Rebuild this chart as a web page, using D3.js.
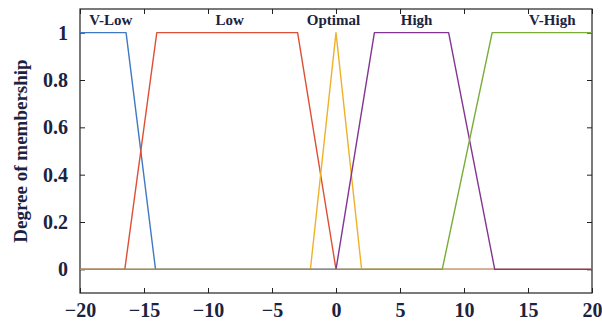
<!DOCTYPE html>
<html>
<head>
<meta charset="utf-8">
<script src="https://cdn.jsdelivr.net/npm/d3@7"></script>
<style>
  body { margin: 0; background: #fff; }
  svg text { font-family: "Liberation Serif", "Times New Roman", serif; font-weight: bold; fill: #1b2340; }
  .axis path, .axis line { stroke: #222; }
</style>
</head>
<body>
<div id="chart"></div>
<script>
// membership functions: trapezoid corner x positions (a, b, c, d)
const setNames = ['V-Low', 'Low', 'Optimal', 'High', 'V-High'];
const setCorners = [
  [-20, -20, -16.4, -14.1],
  [-16.5, -14, -3, 0],
  [-2, 0, 0, 2],
  [0, 3, 8.8, 12.4],
  [8.3, 12.2, 20, 20]
];
const setColors = ['#3f78c4', '#df4f35', '#efb12a', '#823592', '#78ad35'];
const labelX = [-17.6, -8.3, -0.2, 6.3, 16.9];
const xTicks = [-20, -15, -10, -5, 0, 5, 10, 15, 20];
const yTicks = [0, 0.2, 0.4, 0.6, 0.8, 1];

const width = 602, height = 324;
const margin = { left: 80, top: 9, right: 10, bottom: 31 };

const svg = d3.select('#chart').append('svg')
    .attr('width', width)
    .attr('height', height);

const x = d3.scaleLinear().domain([-20, 20]).range([margin.left, width - margin.right]);
const y = d3.scaleLinear().domain([-0.1, 1.1]).range([height - margin.bottom, margin.top]);

// frame
svg.append('rect')
    .attr('x', x(-20)).attr('y', y(1.1))
    .attr('width', x(20) - x(-20)).attr('height', y(-0.1) - y(1.1))
    .attr('fill', 'none').attr('stroke', '#222').attr('stroke-width', 1.2);

const tick = 5;
const fmtX = d => d < 0 ? '\u2212' + Math.abs(d) : String(d);

svg.append('g').attr('class', 'axis')
    .attr('transform', `translate(0,${y(-0.1)})`)
    .call(d3.axisBottom(x).tickValues(xTicks).tickSizeInner(-tick).tickSizeOuter(0).tickPadding(10).tickFormat(fmtX))
    .call(g => g.select('.domain').remove())
    .selectAll('text').attr('font-size', 20);

svg.append('g').attr('class', 'axis')
    .attr('transform', `translate(0,${y(1.1)})`)
    .call(d3.axisTop(x).tickValues(xTicks).tickSizeInner(-tick).tickSizeOuter(0).tickFormat(''))
    .call(g => g.select('.domain').remove());

svg.append('g').attr('class', 'axis')
    .attr('transform', `translate(${x(-20)},0)`)
    .call(d3.axisLeft(y).tickValues(yTicks).tickSizeInner(-tick).tickSizeOuter(0).tickPadding(12).tickFormat(d => d === 0 || d === 1 ? d : d.toFixed(1)))
    .call(g => g.select('.domain').remove())
    .selectAll('text').attr('font-size', 20);

svg.append('g').attr('class', 'axis')
    .attr('transform', `translate(${x(20)},0)`)
    .call(d3.axisRight(y).tickValues(yTicks).tickSizeInner(-tick).tickSizeOuter(0).tickFormat(''))
    .call(g => g.select('.domain').remove());

// y label
svg.append('text')
    .attr('transform', `translate(27,${(y(-0.1) + y(1.1)) / 2}) rotate(-90)`)
    .attr('text-anchor', 'middle')
    .attr('font-size', 19)
    .text('Degree of membership');

// membership lines
const line = d3.line().x(d => x(d[0])).y(d => y(d[1]));
setCorners.forEach((c, i) => {
  const pts = [[-20, 0], [c[0], 0], [c[1], 1], [c[2], 1], [c[3], 0], [20, 0]]
    .filter(p => !(p[0] === -20 && c[0] === -20 && p[1] === 0) && !(p[0] === 20 && c[3] === 20 && p[1] === 0));
  svg.append('path')
      .attr('d', line(pts))
      .attr('fill', 'none')
      .attr('stroke', setColors[i])
      .attr('stroke-width', 1.4)
      .attr('stroke-linejoin', 'round');
});

// set labels
svg.append('g').selectAll('text').data(setNames).enter()
  .append('text')
    .attr('x', (d, i) => x(labelX[i]))
    .attr('y', y(1.05) + 4)
    .attr('text-anchor', 'middle')
    .attr('font-size', 15)
    .text(d => d);
</script>
</body>
</html>
